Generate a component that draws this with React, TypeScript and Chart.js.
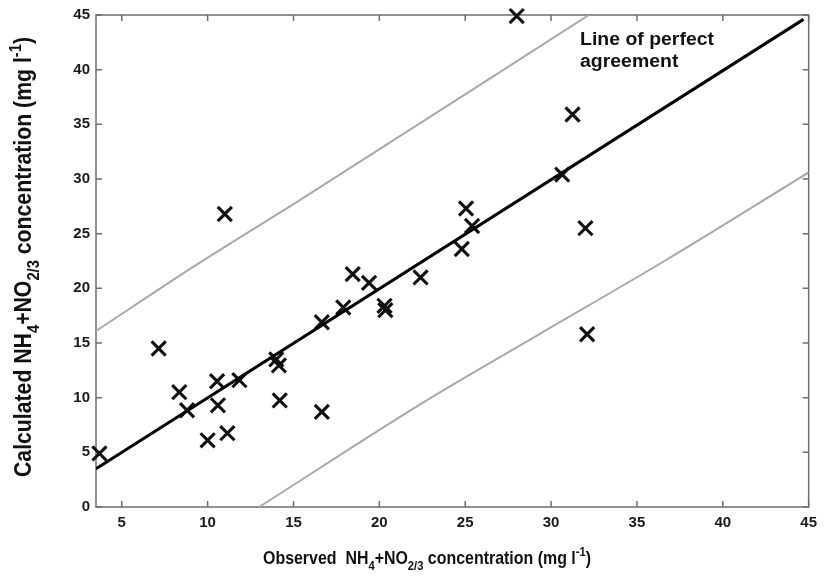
import React, { useEffect, useRef } from 'react';
import { Chart, registerables } from 'chart.js';

Chart.register(...registerables);

// Observed vs calculated NH4+NO2/3 (mg l-1)
const observed = [3.7, 7.15, 8.35, 8.8, 10.0, 10.55, 10.6, 11.0, 11.15, 11.85, 14.0, 14.15, 14.2, 16.65, 16.65, 17.9, 18.45, 19.4, 20.3, 20.35, 22.4, 24.8, 25.05, 25.4, 28.0, 30.65, 31.25, 32.0, 32.1];
const calculated = [4.9, 14.5, 10.5, 8.85, 6.1, 11.5, 9.3, 26.8, 6.75, 11.6, 13.5, 12.95, 9.75, 16.9, 8.7, 18.25, 21.3, 20.5, 18.4, 18.0, 21.0, 23.6, 27.3, 25.7, 44.9, 30.4, 35.9, 25.5, 15.8];

// Line of perfect agreement
const perfectX = [3.5, 44.7];
const perfectY = [3.5, 44.6];

// Upper and lower bounds
const upperX = [3.5, 9.5, 15.3, 32.2];
const upperY = [16.1, 22.3, 28.0, 45];
const lowerX = [13.0, 22.8, 29.2, 36.6, 45];
const lowerY = [0, 9.8, 15.7, 22.5, 30.6];

const xTicks = [5, 10, 15, 20, 25, 30, 35, 40, 45];
const yTicks = [0, 5, 10, 15, 20, 25, 30, 35, 40, 45];

const FAMILY = '"Liberation Sans", Arial, Helvetica, sans-serif';

type Seg = { t: string; k: 'n' | 'sub' | 'sup' };

const yTitle: Seg[] = [
  { t: 'Calculated NH', k: 'n' },
  { t: '4', k: 'sub' },
  { t: '+NO', k: 'n' },
  { t: '2/3', k: 'sub' },
  { t: ' concentration (mg l', k: 'n' },
  { t: '-1', k: 'sup' },
  { t: ')', k: 'n' },
];
const xTitle: Seg[] = [
  { t: 'Observed  NH', k: 'n' },
  { t: '4', k: 'sub' },
  { t: '+NO', k: 'n' },
  { t: '2/3', k: 'sub' },
  { t: ' concentration (mg l', k: 'n' },
  { t: '-1', k: 'sup' },
  { t: ')', k: 'n' },
];
const noteLines = ['Line of perfect', 'agreement'];

function segFont(size: number, k: string) {
  const s = k === 'n' ? size : Math.round(size * 0.68);
  return `bold ${s}px ${FAMILY}`;
}

function richWidth(ctx: CanvasRenderingContext2D, segs: Seg[], size: number) {
  let w = 0;
  for (const s of segs) {
    ctx.font = segFont(size, s.k);
    w += ctx.measureText(s.t).width;
  }
  return w;
}

function drawRich(ctx: CanvasRenderingContext2D, segs: Seg[], size: number, x0: number) {
  let x = x0;
  for (const s of segs) {
    ctx.font = segFont(size, s.k);
    const dy = s.k === 'sub' ? size * 0.34 : s.k === 'sup' ? -size * 0.42 : 0;
    ctx.fillText(s.t, x, dy);
    x += ctx.measureText(s.t).width;
  }
}

const decorPlugin = {
  id: 'decor',
  beforeDatasetsDraw(chart: any) {
    const { ctx, chartArea: a, scales } = chart;
    ctx.save();
    ctx.strokeStyle = '#6e6e6e';
    ctx.lineWidth = 1.5;
    ctx.strokeRect(a.left, a.top, a.right - a.left, a.bottom - a.top);
    const tl = 6;
    ctx.beginPath();
    for (const v of xTicks) {
      const px = scales.x.getPixelForValue(v);
      ctx.moveTo(px, a.bottom);
      ctx.lineTo(px, a.bottom - tl);
      ctx.moveTo(px, a.top);
      ctx.lineTo(px, a.top + tl);
    }
    for (const v of yTicks) {
      const py = scales.y.getPixelForValue(v);
      ctx.moveTo(a.left, py);
      ctx.lineTo(a.left + tl, py);
      ctx.moveTo(a.right, py);
      ctx.lineTo(a.right - tl, py);
    }
    ctx.stroke();
    ctx.restore();
  },
  afterDraw(chart: any) {
    const { ctx, chartArea: a } = chart;
    ctx.save();
    ctx.fillStyle = '#111';
    ctx.textAlign = 'left';
    ctx.textBaseline = 'alphabetic';

    // y title
    {
      const size = 23;
      const w = richWidth(ctx, yTitle, size);
      const target = 440;
      ctx.save();
      ctx.translate(31, 257);
      ctx.rotate(-Math.PI / 2);
      ctx.scale(target / w, 1);
      drawRich(ctx, yTitle, size, -w / 2);
      ctx.restore();
    }
    // x title
    {
      const size = 18.5;
      const w = richWidth(ctx, xTitle, size);
      const target = 328;
      ctx.save();
      ctx.translate(427, 564);
      ctx.scale(target / w, 1);
      drawRich(ctx, xTitle, size, -w / 2);
      ctx.restore();
    }
    // annotation
    {
      const size = 18;
      ctx.font = `bold ${size}px ${FAMILY}`;
      const w = ctx.measureText(noteLines[0]).width;
      const sx = 134 / w;
      ctx.save();
      ctx.translate(a.left + 484, 0);
      ctx.scale(sx, 1);
      ctx.fillText(noteLines[0], 0, 45);
      ctx.fillText(noteLines[1], 0, 67);
      ctx.restore();
    }
    ctx.restore();
  },
};

export default function App() {
  const ref = useRef<HTMLCanvasElement | null>(null);

  useEffect(() => {
    if (!ref.current) return;
    const toPts = (xs: number[], ys: number[]) => xs.map((x, i) => ({ x, y: ys[i] }));
    const tickFont = { family: FAMILY, size: 15, weight: 'bold' as const };

    const chart = new Chart(ref.current, {
      type: 'scatter',
      data: {
        datasets: [
          {
            type: 'line',
            data: toPts(upperX, upperY),
            borderColor: '#a9a9a9',
            borderWidth: 2,
            pointRadius: 0,
            cubicInterpolationMode: 'monotone',
            fill: false,
          } as any,
          {
            type: 'line',
            data: toPts(lowerX, lowerY),
            borderColor: '#a9a9a9',
            borderWidth: 2,
            pointRadius: 0,
            cubicInterpolationMode: 'monotone',
            fill: false,
          } as any,
          {
            type: 'line',
            data: toPts(perfectX, perfectY),
            borderColor: '#000',
            borderWidth: 3,
            pointRadius: 0,
            tension: 0,
            fill: false,
          } as any,
          {
            type: 'scatter',
            data: toPts(observed, calculated),
            pointStyle: 'crossRot',
            pointRadius: 10,
            pointHoverRadius: 10,
            borderColor: '#111',
            backgroundColor: '#111',
            borderWidth: 3.1,
            clip: false,
          } as any,
        ],
      },
      options: {
        responsive: false,
        animation: false,
        layout: { padding: { top: 14, right: 11, left: 0, bottom: 0 } },
        plugins: {
          legend: { display: false },
          tooltip: { enabled: false },
        },
        scales: {
          x: {
            type: 'linear',
            min: 3.5,
            max: 45,
            grid: { display: false, drawTicks: false },
            border: { display: false },
            ticks: { font: tickFont, color: '#1a1a1a', padding: 7, maxRotation: 0, autoSkip: false },
            afterBuildTicks: (s: any) => {
              s.ticks = xTicks.map((v) => ({ value: v }));
            },
            afterFit: (s: any) => {
              s.height = 73;
            },
          },
          y: {
            type: 'linear',
            min: 0,
            max: 45,
            grid: { display: false, drawTicks: false },
            border: { display: false },
            ticks: { font: tickFont, color: '#1a1a1a', padding: 6, autoSkip: false },
            afterBuildTicks: (s: any) => {
              s.ticks = yTicks.map((v) => ({ value: v }));
            },
            afterFit: (s: any) => {
              s.width = 96;
            },
          },
        },
      } as any,
      plugins: [decorPlugin],
    });
    return () => chart.destroy();
  }, []);

  return (
    <div style={{ position: 'absolute', left: 0, top: 0, width: 824, height: 580, background: '#fff' }}>
      <canvas ref={ref} width={824} height={580} style={{ width: 824, height: 580, display: 'block' }} />
    </div>
  );
}
